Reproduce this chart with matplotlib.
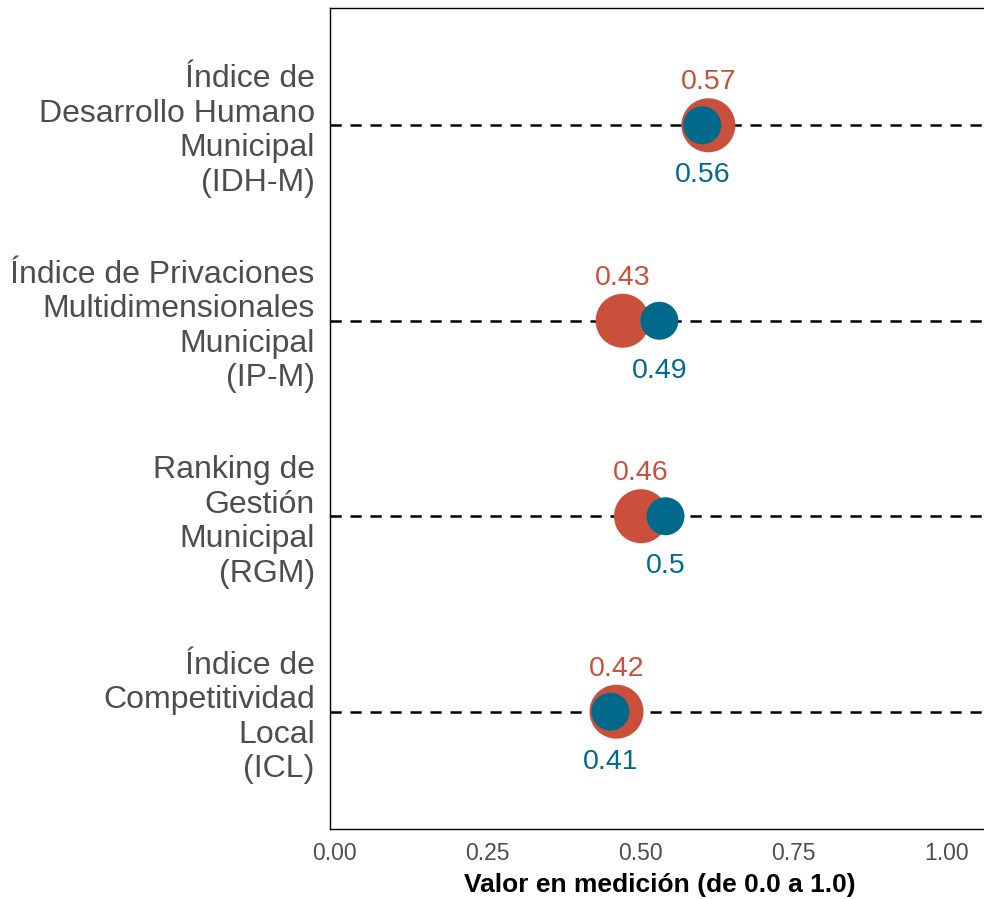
import numpy as np
import matplotlib.pyplot as plt

plt.rcParams['font.family'] = ['Liberation Sans', 'DejaVu Sans']

# Datos
indices = [
    "Índice de\nDesarrollo Humano\nMunicipal\n(IDH-M)",
    "Índice de Privaciones\nMultidimensionales\nMunicipal\n(IP-M)",
    "Ranking de\nGestión\nMunicipal\n(RGM)",
    "Índice de\nCompetitividad\nLocal\n(ICL)",
]
valores_rojo = [0.57, 0.43, 0.46, 0.42]
valores_azul = [0.56, 0.49, 0.50, 0.41]
etiquetas_rojo = ["0.57", "0.43", "0.46", "0.42"]
etiquetas_azul = ["0.56", "0.49", "0.5", "0.41"]

# los puntos aparecen desplazados respecto a su etiqueta en el original
desplazamiento = 0.041

rojo = "#CB503B"
azul = "#006A8C"

fig = plt.figure(figsize=(9.84, 8.99), dpi=100)
ax = fig.add_axes([330 / 984, 1 - 829 / 899, 660 / 984, 821 / 899])

y = np.arange(1, len(indices) + 1)

for yi in y:
    ax.axhline(yi, color="black", lw=1.8, dashes=(4.5, 3.5), zorder=1)

xr = np.array(valores_rojo) + desplazamiento
xa = np.array(valores_azul) + desplazamiento
ax.scatter(xr, y, s=1512, color=rojo, edgecolors="none", zorder=2)
ax.scatter(xa, y, s=748, color=azul, edgecolors="none", zorder=3)

for xi, yi, t in zip(xr, y, etiquetas_rojo):
    ax.text(xi, yi - 0.22, t, color=rojo, fontsize=20.5, ha="center", va="center")
for xi, yi, t in zip(xa, y, etiquetas_azul):
    ax.text(xi, yi + 0.255, t, color=azul, fontsize=20.5, ha="center", va="center")

ax.set_ylim(4.6, 0.4)
ax.set_xlim(-4 / 609, 656 / 609 - 4 / 609)
ax.set_yticks(y)
ax.set_yticklabels(indices, fontsize=23, color="#4D4D4D", linespacing=1.2)
ax.set_xticks([0, 0.25, 0.5, 0.75, 1.0])
ax.set_xticklabels(["0.00", "0.25", "0.50", "0.75", "1.00"], fontsize=16.5, color="#4D4D4D")
ax.tick_params(axis="both", length=0)
ax.tick_params(axis="y", pad=11)
ax.tick_params(axis="x", pad=9)
ax.set_xlabel("Valor en medición (de 0.0 a 1.0)", fontsize=19, fontweight="bold", labelpad=6)

for s in ["left", "top", "bottom", "right"]:
    ax.spines[s].set_linewidth(1.0)
    ax.spines[s].set_color("black")

fig.savefig("out.png", dpi=100)
